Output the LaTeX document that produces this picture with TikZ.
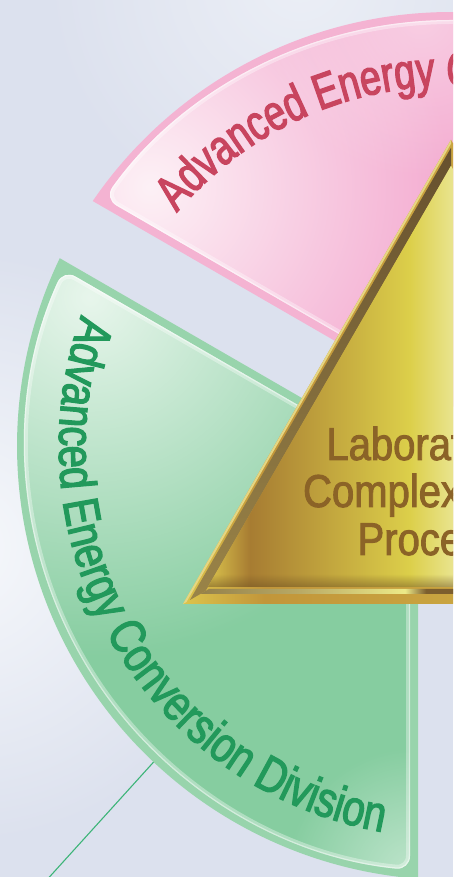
\documentclass[tikz,border=0pt]{standalone}
\usepackage{fontspec}
\setmainfont{Liberation Sans}
\newfontfamily\arcfont{Liberation Sans}[FakeStretch=0.8,FakeBold=2.5]
\newfontfamily\pinkarcfont{Liberation Sans}[FakeStretch=0.75,FakeBold=2.5]
\newfontfamily\labfont{Liberation Sans}[FakeStretch=0.87,FakeBold=2]
\usetikzlibrary{calc,decorations.text,fadings}

\definecolor{bgcol}{HTML}{DCE1EE}
\definecolor{glowcol}{HTML}{F7F9FC}
\definecolor{pinkrim}{HTML}{F4B3D2}
\definecolor{pinkmain}{HTML}{F4ACD1}
\definecolor{pinkhi}{HTML}{FDF1F6}
\definecolor{pinktxt}{HTML}{C8455F}
\definecolor{greenrim}{HTML}{98D4AC}
\definecolor{greenmain}{HTML}{86CDA0}
\definecolor{greenhi}{HTML}{E8F6EC}
\definecolor{greentxt}{HTML}{22995B}
\definecolor{lineg}{HTML}{3DB478}
\definecolor{labbrown}{HTML}{8B6327}
% triangle colours
\definecolor{goA}{HTML}{DCC44C}
\definecolor{goB}{HTML}{C2963A}
\definecolor{goC}{HTML}{C9A440}
\definecolor{gA}{HTML}{D6BE4A}
\definecolor{gB}{HTML}{D2B848}
\definecolor{gC}{HTML}{A77C32}
\definecolor{gD}{HTML}{C2A63E}
\definecolor{gE}{HTML}{DCCF4A}
\definecolor{gF}{HTML}{E9E48E}
\definecolor{bA}{HTML}{8E7A46}
\definecolor{bB}{HTML}{B9AA66}
\definecolor{bC}{HTML}{ECEA88}
\definecolor{bD}{HTML}{7C5E2E}
\definecolor{darkA}{HTML}{66502E}
\definecolor{darkB}{HTML}{9A8448}
\definecolor{shadowbrown}{HTML}{6B4E22}

\pgfdeclarehorizontalshading{goldouter}{100bp}{color(0bp)=(goA); color(25bp)=(goA); color(40bp)=(goB); color(75bp)=(goC); color(100bp)=(goC)}
\pgfdeclarehorizontalshading{goldinner}{100bp}{color(0bp)=(gA); color(25bp)=(gA); color(30.9bp)=(gB); color(37.4bp)=(gC); color(52.2bp)=(gD); color(67bp)=(gE); color(75bp)=(gF); color(100bp)=(gF)}
\pgfdeclarehorizontalshading{goldband}{100bp}{color(0bp)=(bA); color(25bp)=(bA); color(46.7bp)=(bB); color(66.1bp)=(bC); color(70bp)=(bD); color(75bp)=(bD); color(100bp)=(bD)}

\tikzfading[name=softglow, inner color=transparent!0, outer color=transparent!100]

\newcommand\pinkfmt{\pinkarcfont\fontsize{50}{50}\selectfont\color{pinktxt}}
\newcommand\greenfmt{\arcfont\fontsize{50}{50}\selectfont\color{greentxt}}

\def\pinkouter{([shift={(O)}]90:38.1) -- ([shift={(O)}]34.36:434) arc[start angle=34.36, end angle=145.64, radius=434] -- cycle}
\def\pinkinner{([shift={(O)}]90:47.3) -- ([shift={(O)}]35.52:426) arc[start angle=35.52, end angle=144.48, radius=426] -- cycle}
\def\greenouter{([shift={(O)}]210:38.1) -- ([shift={(O)}]154.36:434) arc[start angle=154.36, end angle=265.64, radius=434] -- cycle}
\def\greeninner{([shift={(O)}]210:47.3) -- ([shift={(O)}]155.52:426) arc[start angle=155.52, end angle=264.48, radius=426] -- cycle}

\tikzset{
  connector/.style={draw=lineg, line width=1.1pt},
  labtext/.style={text=labbrown, font=\labfont\fontsize{46}{46}\selectfont, inner sep=0pt, anchor=base},
  edgeglow/.style={draw=white, rounded corners=14pt},
}

\begin{document}
\begin{tikzpicture}[x=1pt,y=1pt]
\useasboundingbox (0,0) rectangle (453,877);
\clip (0,0) rectangle (453,877);
\coordinate (O) at (451,431);

% background
\fill[bgcol] (0,0) rectangle (453,877);
\fill[glowcol, path fading=softglow] (-40,330) circle (300);
\fill[glowcol, path fading=softglow, opacity=0.6] (300,900) circle (260);

% connector line from green sector
\coordinate (lnA) at (160,122);
\coordinate (lnB) at (44,-6);
\draw[connector] (lnA) -- (lnB);

% pink sector
\fill[pinkrim] \pinkouter;
\begin{scope}
  \clip[rounded corners=14pt] \pinkinner;
  \fill[pinkmain] (0,300) rectangle (453,877);
  \fill[pinkhi, path fading=softglow] (150,690) circle (300);
  \fill[pinkhi, path fading=softglow, opacity=0.5] (420,860) circle (160);
  \draw[edgeglow, opacity=0.35, line width=8pt] \pinkinner;
  \draw[edgeglow, opacity=0.45, line width=2.5pt] \pinkinner;
\end{scope}

% green sector
\fill[greenrim] \greenouter;
\begin{scope}
  \clip[rounded corners=14pt] \greeninner;
  \fill[greenmain] (0,0) rectangle (453,640);
  \fill[greenhi, path fading=softglow] (90,580) circle (360);
  \fill[greenhi, path fading=softglow, opacity=0.6] (415,0) circle (130);
  \draw[edgeglow, opacity=0.35, line width=8pt] \greeninner;
  \draw[edgeglow, opacity=0.45, line width=2.5pt] \greeninner;
\end{scope}

% curved division titles
\path[decorate, decoration={text along path, text={|\pinkfmt|Advanced Energy Generation Division}, text align=left}]
  ([shift={(O)}]139.6:360) arc[start angle=139.6, end angle=20, radius=360];
\path[decorate, decoration={text along path, text={|\greenfmt|Advanced Energy Conversion Division}, text align=left}]
  ([shift={(O)}]160.5:392) arc[start angle=160.5, end angle=275, radius=392];

% triangle
\coordinate (G) at (451,427.73);
\coordinate (TA) at (183,273);
\coordinate (TB) at (719,273);
\coordinate (TC) at (451,737.19);
\foreach \d in {2,4,10,13,15,17} {
  \coordinate (A\d) at ($(G)!{1-\d/154.73}!(TA)$);
  \coordinate (B\d) at ($(G)!{1-\d/154.73}!(TB)$);
  \coordinate (C\d) at ($(G)!{1-\d/154.73}!(TC)$);
}
\begin{scope}
  \clip (TA) -- (TB) -- (TC) -- cycle;
  \shade[shading=goldouter] (183,273) rectangle (453,740);
\end{scope}
\fill[color=goA!70!white] (TA) -- (TC) -- (C2) -- (A2) -- cycle;
\begin{scope}
  \clip (A10) -- (B10) -- (B15) -- (A15) -- cycle;
  \shade[shading=goldband] (183,273) rectangle (453,300);
\end{scope}
\shade[top color=darkA, bottom color=darkB] (A4) -- (C4) -- (C13) -- (A13) -- cycle;
\begin{scope}
  \clip (A13) -- (B13) -- (C13) -- cycle;
  \clip (0,290) rectangle (453,877);
  \shade[shading=goldinner] (183,273) rectangle (453,740);
  \fill[shadowbrown, opacity=0.55, path fading=north] (183,289) rectangle (453,303);
\end{scope}

\node[labtext] (lab1) at (451,417) {Laboratory for};
\node[labtext] (lab2) at (451,370) {Complex Energy};
\node[labtext] (lab3) at (451,322) {Processes};
\end{tikzpicture}
\end{document}
